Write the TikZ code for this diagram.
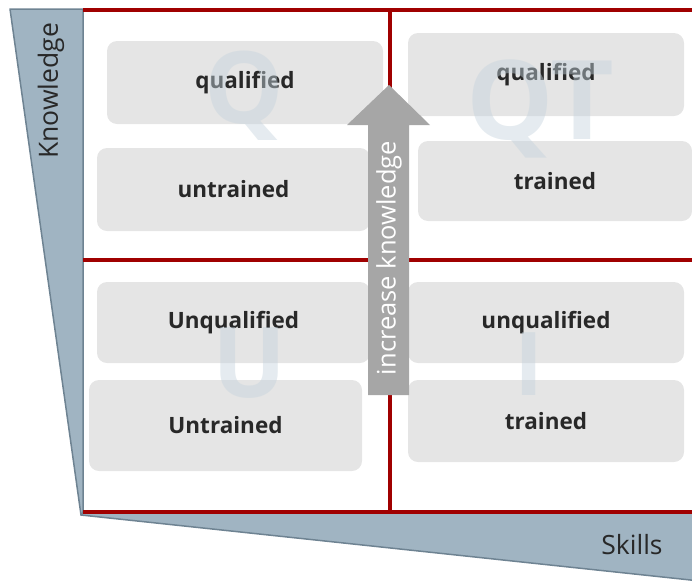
\documentclass[tikz,border=0pt]{standalone}
\usepackage{fontspec}
\setmainfont{Open Sans}
\usepackage{xcolor}
\usepackage{tikz}
\usetikzlibrary{positioning,calc}
\definecolor{framered}{RGB}{160, 0, 0}
\definecolor{wedgeblue}{RGB}{160, 180, 194}
\definecolor{wedgeedge}{RGB}{110, 131, 146}
\definecolor{boxgray}{RGB}{229, 229, 229}
\definecolor{textdark}{RGB}{40, 40, 40}
\definecolor{arrowgray}{RGB}{166, 166, 166}
\definecolor{markblue}{RGB}{197, 211, 221}

\begin{document}
\begin{tikzpicture}[
    x=1pt, y=-1pt,
    % Styles for the quadrant chart
    cell/.style={rectangle, fill=boxgray, rounded corners=10pt, text=textdark, font=\fontsize{22.5}{26}\selectfont\bfseries, inner sep=0pt},
    wedge/.style={fill=wedgeblue, draw=wedgeedge, line width=1.5pt, line join=round},
    axislabel/.style={text=textdark, font=\fontsize{26.5}{30}\selectfont},
    quadline/.style={draw=framered, line width=3.2pt},
    watermark/.style={text=markblue, opacity=0.45, anchor=base, inner sep=0pt}
]
\useasboundingbox (0,0) rectangle (692,581);

% Axis wedges
\filldraw [wedge] (10,9) -- (83,9) -- (83,513) -- (81,515) -- cycle;
\filldraw [wedge] (81,515) -- (83,512) -- (700,512) -- (700,581) -- cycle;
\node [axislabel, rotate=90] (knowledge) at (51,91) {Knowledge};
\node [axislabel] (skills) at (632,545) {Skills};

% Quadrant frame
\draw [quadline] (83,10) -- (692,10);
\draw [quadline] (83,260) -- (692,260);
\draw [quadline] (83,512) -- (692,512);
\draw [quadline] (390,10) -- (390,512);

% Top left: Q
\node [cell, minimum width=276pt, minimum height=83pt] (qualQ) at (245,82.5) {qualified};
\node [cell, minimum width=273pt, minimum height=83pt] (untrainedQ) at (233.5,189.5) {untrained};

% Top right: QT
\node [cell, minimum width=276pt, minimum height=83pt] (qualQT) at (546,74.5) {qualified};
\node [cell, minimum width=274pt, minimum height=80pt] (trainedQT) at (555,181) {trained};

% Bottom left: U
\node [cell, minimum width=273pt, minimum height=81pt] (unqualU) at (233.5,322.5) {Unqualified};
\node [cell, minimum width=273pt, minimum height=91pt] (untrainedU) at (225.5,425.5) {Untrained};

% Bottom right: T
\node [cell, minimum width=276pt, minimum height=81pt] (unqualT) at (546,322.5) {unqualified};
\node [cell, minimum width=276pt, minimum height=82pt] (trainedT) at (546,421) {trained};

% Watermark letters
\node [watermark, font=\fontsize{100}{100}\selectfont\bfseries] (markQ) at (244,123) {Q};
\node [watermark, font=\fontsize{110}{110}\selectfont\bfseries] (markQT) at (540,139) {QT};
\node [watermark, font=\fontsize{98}{98}\selectfont\bfseries] (markU) at (250,397) {U};
\node [watermark, font=\fontsize{88}{88}\selectfont\bfseries] (markT) at (529,395) {I};

% Knowledge arrow
\fill [arrowgray] (368,395) -- (368,125) -- (347,125) -- (389,85) -- (430,125) -- (409,125) -- (409,395) -- cycle;
\node [text=white, rotate=90, font=\fontsize{25.5}{30}\selectfont] (increase) at (389,258) {increase knowledge};

\end{tikzpicture}
\end{document}
